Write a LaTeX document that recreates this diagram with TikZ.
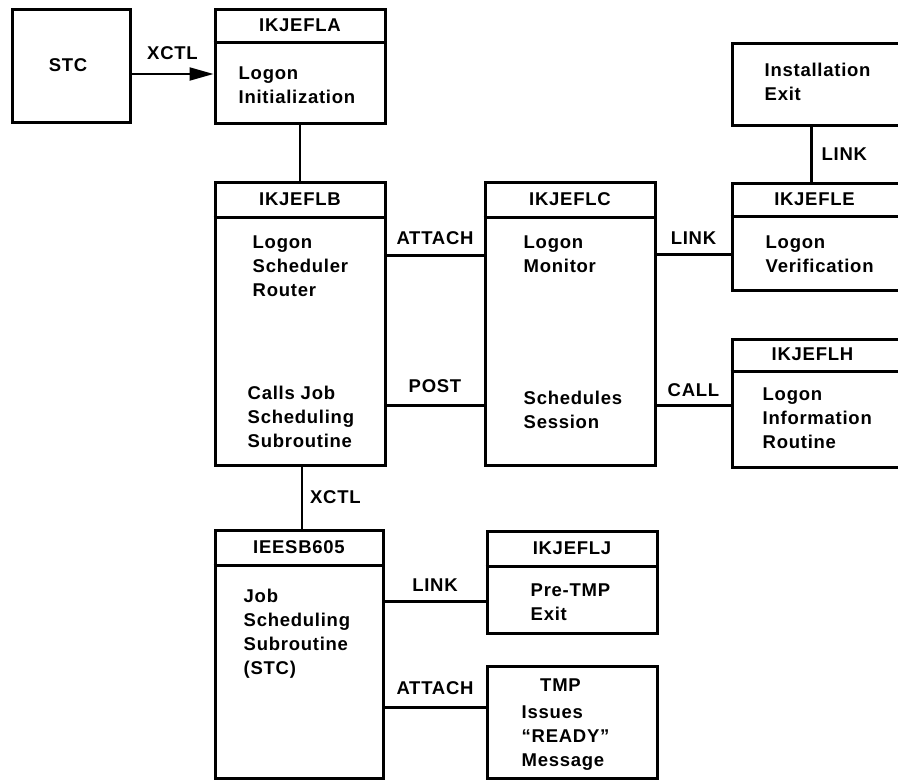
\documentclass[tikz,border=0pt]{standalone}
\usepackage{fontspec}
\setmainfont{Liberation Sans}[LetterSpace=4.0]
\usetikzlibrary{positioning, arrows.meta, calc}

\begin{document}
\begin{tikzpicture}[
		x=1pt, y=-1pt,
		>={Triangle[length=24pt, width=13pt]},
		font=\bfseries\fontsize{18.5}{24}\selectfont,
		% Module boxes (sizes given per box)
		modbox/.style={rectangle, draw, line width=3pt, inner sep=0pt},
		% Line under the module name
		divline/.style={line width=2.4pt},
		% Module name and description texts
		modname/.style={inner sep=0pt},
		modtext/.style={anchor=north west, inner sep=0pt, align=left},
		% Connectors and their labels
		flow/.style={line width=2.2pt},
		lab/.style={inner sep=0pt}
	]
	\useasboundingbox (0,0) rectangle (898,780);

	% ==========================================
	% 1. TOP ROW: STC AND LOGON INITIALIZATION
	% ==========================================

	\node[modbox, minimum width=118pt, minimum height=113pt] (stc) at (71, 65.5) {};
	\node[modname] (stcname) at ([xshift=-3pt]stc.center) {STC};

	\node[modbox, minimum width=170pt, minimum height=114pt] (fla) at (300, 66) {};
	\draw[divline] ([yshift=-35pt]fla.north west) -- ([yshift=-35pt]fla.north east);
	\node[modname] (flaname) at ([yshift=-17.5pt]fla.north) {IKJEFLA};
	\node[modtext] (flatext) at ([xshift=25pt, yshift=-59pt]fla.north west) {Logon\\Initialization};

	% Installation exit (runs off the right edge)
	\node[modbox, minimum width=173pt, minimum height=82pt] (inst) at (818.5, 84) {};
	\node[modtext] (insttext) at ([xshift=34pt, yshift=-21pt]inst.north west) {Installation\\Exit};

	% ==========================================
	% 2. MIDDLE ROW: LOGON SCHEDULER AND MONITOR
	% ==========================================

	\node[modbox, minimum width=170pt, minimum height=283pt] (flb) at (300, 323.5) {};
	\draw[divline] ([yshift=-37pt]flb.north west) -- ([yshift=-37pt]flb.north east);
	\node[modname] (flbname) at ([yshift=-18.5pt]flb.north) {IKJEFLB};
	\node[modtext] (flbtop) at ([xshift=39pt, yshift=-55pt]flb.north west) {Logon\\Scheduler\\Router};
	\node[modtext] (flbbot) at ([xshift=34pt, yshift=-205pt]flb.north west) {Calls Job\\Scheduling\\Subroutine};

	\node[modbox, minimum width=170pt, minimum height=283pt] (flc) at (570, 323.5) {};
	\draw[divline] ([yshift=-37pt]flc.north west) -- ([yshift=-37pt]flc.north east);
	\node[modname] (flcname) at ([yshift=-18.5pt]flc.north) {IKJEFLC};
	\node[modtext] (flctop) at ([xshift=40pt, yshift=-55pt]flc.north west) {Logon\\Monitor};
	\node[modtext] (flcbot) at ([xshift=40pt, yshift=-210pt]flc.north west) {Schedules\\Session};

	\node[modbox, minimum width=173pt, minimum height=107pt] (fle) at (818.5, 236.5) {};
	\draw[divline] ([yshift=-35pt]fle.north west) -- ([yshift=-35pt]fle.north east);
	\node[modname] (flename) at ([xshift=-4pt, yshift=-17.5pt]fle.north) {IKJEFLE};
	\node[modtext] (fletext) at ([xshift=35pt, yshift=-54pt]fle.north west) {Logon\\Verification};

	\node[modbox, minimum width=173pt, minimum height=128pt] (flh) at (818.5, 403) {};
	\draw[divline] ([yshift=-34pt]flh.north west) -- ([yshift=-34pt]flh.north east);
	\node[modname] (flhname) at ([xshift=-6pt, yshift=-17pt]flh.north) {IKJEFLH};
	\node[modtext] (flhtext) at ([xshift=32pt, yshift=-50pt]flh.north west) {Logon\\Information\\Routine};

	% ==========================================
	% 3. BOTTOM ROW: JOB SCHEDULING AND TMP
	% ==========================================

	\node[modbox, minimum width=168pt, minimum height=248pt] (ieesb) at (299, 654) {};
	\draw[divline] ([yshift=-37pt]ieesb.north west) -- ([yshift=-37pt]ieesb.north east);
	\node[modname] (ieesbname) at ([yshift=-18.5pt]ieesb.north) {IEESB605};
	\node[modtext] (ieesbtext) at ([xshift=30pt, yshift=-60pt]ieesb.north west) {Job\\Scheduling\\Subroutine\\(STC)};

	\node[modbox, minimum width=170pt, minimum height=102pt] (flj) at (572, 582) {};
	\draw[divline] ([yshift=-37pt]flj.north west) -- ([yshift=-37pt]flj.north east);
	\node[modname] (fljname) at ([yshift=-18.5pt]flj.north) {IKJEFLJ};
	\node[modtext] (fljtext) at ([xshift=45pt, yshift=-54pt]flj.north west) {Pre-TMP\\Exit};

	\node[modbox, minimum width=170pt, minimum height=112pt] (tmp) at (572, 722) {};
	\node[modtext, anchor=north] (tmpname) at ([xshift=75pt, yshift=-14pt]tmp.north west) {TMP};
	\node[modtext] (tmptext) at ([xshift=36pt, yshift=-41pt]tmp.north west) {Issues\\``READY''\\Message};

	% ==========================================
	% 4. CONNECTORS
	% ==========================================

	\draw[flow, ->] ([yshift=-8.5pt]stc.east) -- node[lab, above=13pt] {XCTL} ([yshift=-8.5pt]stc.east -| fla.west);
	\draw[flow] (fla.south) -- (flb.north);
	\draw[flow] (inst.south -| fle.north west) ++(81pt,0) coordinate (instfoot) -- (instfoot |- fle.north)
		node[lab, right=9pt, midway] {LINK};

	% Scheduler router to monitor, monitor to its callees
	\draw[flow] ([yshift=-75pt]flb.north east) -- node[lab, above=10pt] {ATTACH} ([yshift=-75pt]flc.north west);
	\draw[flow] ([yshift=-225pt]flb.north east) -- node[lab, above=12pt] {POST} ([yshift=-225pt]flc.north west);
	\draw[flow] ([yshift=-74pt]flc.north east) -- node[lab, above=9pt] {LINK} ([yshift=-74pt]flc.north east -| fle.west);
	\draw[flow] ([yshift=-225pt]flc.north east) -- node[lab, above=8pt] {CALL} ([yshift=-225pt]flc.north east -| flh.west);

	% Down to job scheduling and out to the exits
	\draw[flow] ([xshift=2pt]flb.south) -- node[lab, right=7pt] {XCTL} ([xshift=2pt]flb.south |- ieesb.north);
	\draw[flow] ([yshift=-73pt]ieesb.north east) -- node[lab, above=9pt] {LINK} ([yshift=-73pt]ieesb.north east -| flj.west);
	\draw[flow] ([yshift=-179pt]ieesb.north east) -- node[lab, above=12pt] {ATTACH} ([yshift=-179pt]ieesb.north east -| tmp.west);

\end{tikzpicture}
\end{document}
